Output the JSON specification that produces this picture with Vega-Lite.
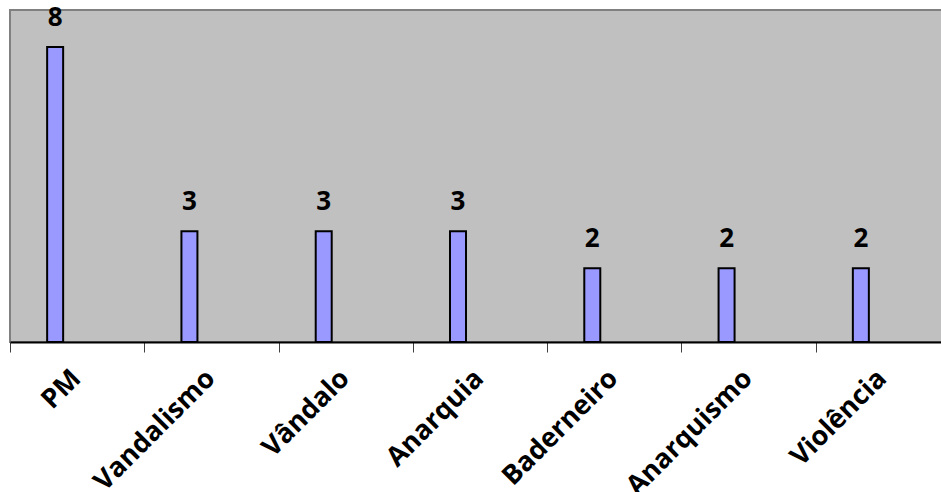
{
  "$schema": "https://vega.github.io/schema/vega-lite/v6.json",
  "width": 940,
  "height": 332,
  "autosize": {"type": "none"},
  "padding": {"left": 10, "top": 10, "right": 0, "bottom": 150},
  "background": "white",
  "config": {
    "view": {"fill": "#C0C0C0", "stroke": "#808080", "strokeWidth": 2},
    "font": "Open Sans"
  },
  "data": {
    "values": [
      {"termo": "PM", "n": 8},
      {"termo": "Vandalismo", "n": 3},
      {"termo": "Vândalo", "n": 3},
      {"termo": "Anarquia", "n": 3},
      {"termo": "Baderneiro", "n": 2},
      {"termo": "Anarquismo", "n": 2},
      {"termo": "Violência", "n": 2}
    ]
  },
  "encoding": {
    "x": {
      "field": "termo",
      "type": "nominal",
      "sort": null,
      "scale": {"paddingInner": 0, "paddingOuter": 0},
      "axis": {
        "title": null,
        "labelAngle": -45,
        "labelAlign": "right",
        "labelBaseline": "middle",
        "labelFont": "Open Sans",
        "labelFontWeight": "bold",
        "labelFontSize": 27,
        "labelColor": "black",
        "labelPadding": 22,
        "labelOffset": -1,
        "labelOverlap": false,
        "tickBand": "extent",
        "tickSize": 10,
        "tickColor": "#404040",
        "domainColor": "black",
        "domainWidth": 2,
        "grid": false
      }
    },
    "y": {
      "field": "n",
      "type": "quantitative",
      "scale": {"domain": [0, 9], "nice": false},
      "axis": null
    }
  },
  "layer": [
    {
      "mark": {"type": "bar", "width": 16, "xOffset": -22, "fill": "#9999FF", "stroke": "black", "strokeWidth": 2}
    },
    {
      "mark": {"type": "text", "xOffset": -22, "dy": -21, "baseline": "alphabetic", "fontSize": 26, "fontWeight": "bold", "font": "Open Sans", "color": "black"},
      "encoding": {"text": {"field": "n", "type": "quantitative"}}
    }
  ]
}
